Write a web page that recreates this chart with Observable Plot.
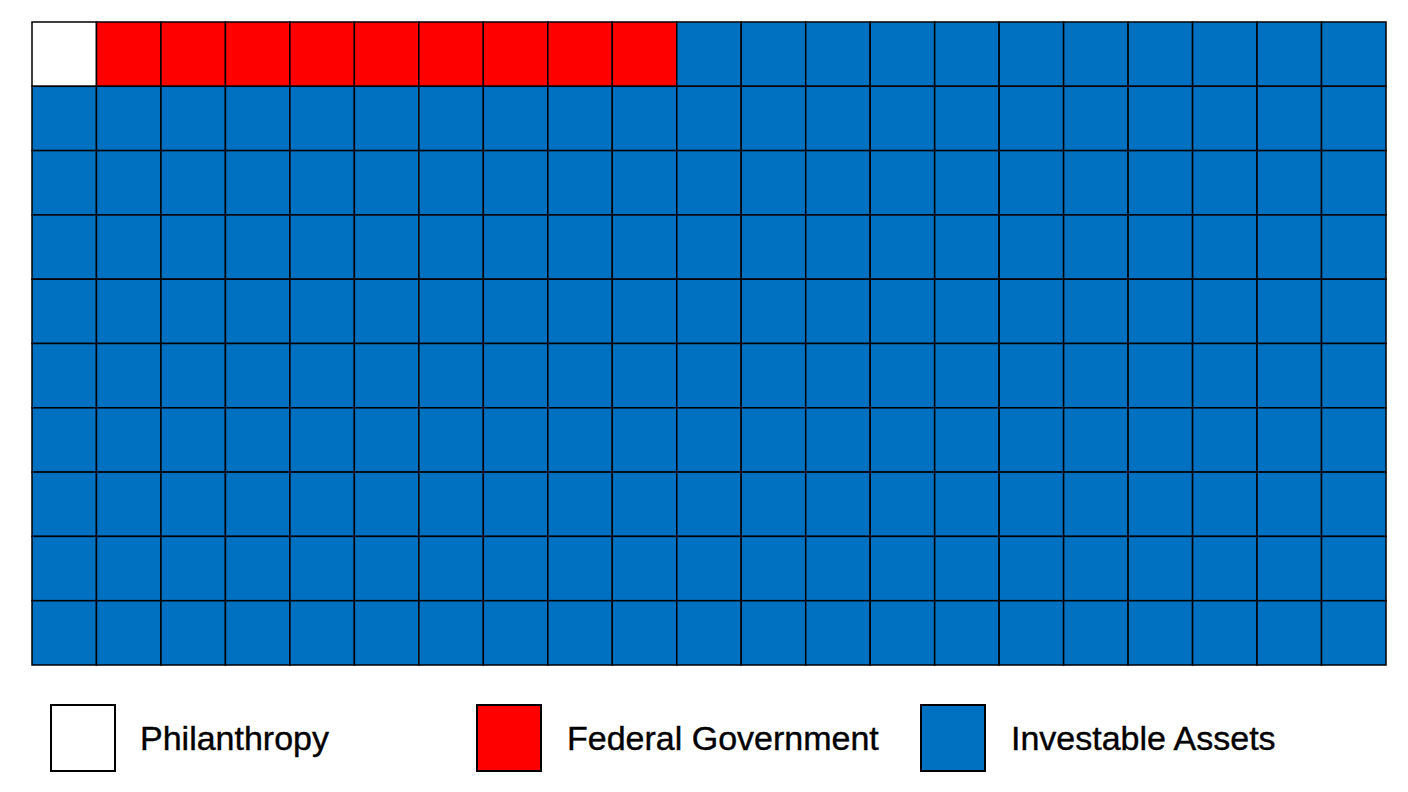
<!DOCTYPE html>
<html>
<head>
<meta charset="utf-8">
<script src="https://cdn.jsdelivr.net/npm/d3@7"></script>
<script src="https://cdn.jsdelivr.net/npm/@observablehq/plot@0.6"></script>
<style>
  html, body { margin: 0; padding: 0; background: #fff; }
  #wrap { position: relative; width: 1408px; height: 792px; font-family: "Liberation Sans", Arial, sans-serif; }
  #legend { position: absolute; left: 0; top: 0; width: 1408px; height: 792px; pointer-events: none; }
  .sw { position: absolute; top: 704px; width: 62px; height: 64px; border: 2px solid #000; box-sizing: content-box; }
  .lb { position: absolute; top: 716px; font-size: 34px; line-height: 44px; color: #000; white-space: nowrap; -webkit-text-stroke: 0.4px #000; }
</style>
</head>
<body>
<div id="wrap"><div id="chart"></div><div id="legend"></div></div>
<script>
const categories = ["Philanthropy", "Federal Government", "Investable Assets"];
const counts = [1, 9, 200];
const colors = ["#FFFFFF", "#FF0000", "#0070C0"];
const columns = 21;
const rows = 10;

const cells = [];
let idx = 0;
categories.forEach((c, i) => {
  for (let k = 0; k < counts[i]; k++) {
    cells.push({col: idx % columns, row: Math.floor(idx / columns), category: c});
    idx++;
  }
});

const chart = Plot.plot({
  width: 1408,
  height: 680,
  marginLeft: 32,
  marginRight: 22,
  marginTop: 22,
  marginBottom: 15,
  x: {domain: d3.range(columns), padding: 0, round: false, axis: null},
  y: {domain: d3.range(rows), padding: 0, round: false, axis: null},
  color: {domain: categories, range: colors},
  marks: [
    Plot.cell(cells, {x: "col", y: "row", fill: "category", stroke: "#000", strokeWidth: 1.5})
  ]
});
document.getElementById("chart").appendChild(chart);

const legend = document.getElementById("legend");
const swLeft = [50, 476, 920];
const lbLeft = [140, 567, 1011];
categories.forEach((c, i) => {
  const s = document.createElement("div");
  s.className = "sw";
  s.style.left = swLeft[i] + "px";
  s.style.background = colors[i];
  legend.appendChild(s);
  const t = document.createElement("div");
  t.className = "lb";
  t.style.left = lbLeft[i] + "px";
  t.textContent = c;
  legend.appendChild(t);
});
</script>
</body>
</html>
